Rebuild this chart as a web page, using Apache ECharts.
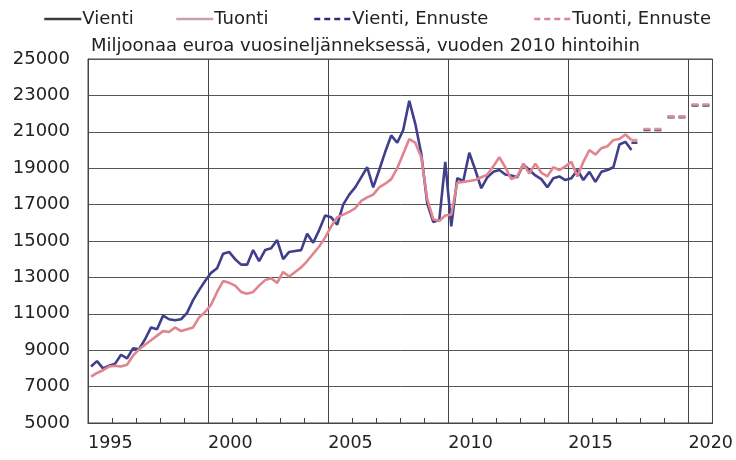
<!DOCTYPE html>
<html><head><meta charset="utf-8">
<script src="https://cdn.jsdelivr.net/npm/echarts@6/dist/echarts.min.js"></script>
<style>html,body{margin:0;padding:0;background:#fff}#c{width:736px;height:460px}</style>
</head><body><div id="c"></div>
<script>
// Quarterly data starting 1995Q1
const startYear = 1995;
const vienti = [8100,8400,8000,8150, 8250,8750,8550,9100, 9050,9600,10250,10150, 10900,10700,10650,10700,
  11050,11750,12300,12800, 13250,13500,14300,14400, 14000,13700,13700,14500, 13900,14500,14600,15050,
  14000,14400,14450,14500, 15400,14900,15600,16400, 16300,15900,17000,17550, 17950,18500,19050,17950,
  18900,19900,20800,20400, 21100,22700,21450,19800, 17050,16050,16150,19350, 15800,18450,18300,19850,
  18900,17900,18500,18800, 18900,18650,18600,18500, 19200,18900,18600,18400, 17950,18450,18550,18350,
  18450,18900,18350,18800, 18250,18800,18900,19050, 20300,20450,20000];
const tuonti = [7550,7750,7900,8100, 8150,8100,8200,8700, 9050,9300,9550,9800, 10050,10000,10250,10050,
  10150,10250,10800,11100, 11500,12200,12800,12700, 12550,12200,12100,12200, 12550,12850,12950,12700,
  13300,13050,13300,13550, 13900,14300,14700,15200, 15800,16300,16450,16600, 16800,17200,17400,17550,
  17950,18150,18400,19000, 19800,20600,20400,19600, 17300,16200,16100,16400, 16450,18200,18250,18300,
  18350,18500,18650,19100, 19600,19050,18400,18550, 19250,18700,19250,18750, 18550,19050,18900,19100,
  19350,18550,19350,20000, 19750,20100,20200,20550, 20600,20850,20550];
// Annual forecasts (drawn per quarter)
const forecastYears = [2017, 2018, 2019, 2020];
const forecastFirstQuarter = [3, 1, 1, 1];
const vientiEnnuste = [20400, 21100, 21800, 22450];
const tuontiEnnuste = [20550, 21150, 21850, 22500];
const yTicks = [5000, 25000, 2000];
const xRange = [1995, 2021];

function quarterly(arr){ return arr.map((v,i)=>[startYear + (i+0.5)/4, v]); }
function forecast(vals){
  const out = [];
  forecastYears.forEach((y,k)=>{
    for(let q=forecastFirstQuarter[k]; q<=4; q++) out.push([y+(q-0.5)/4, vals[k]]);
    out.push([y+1, '-']);
  });
  return out;
}
const FONT = 'DejaVu Sans';
const chart = echarts.init(document.getElementById('c'), null, {renderer:'canvas'});
function leg(name, left, color, type){
  return {left:left, top:10, padding:0, itemWidth:37, itemHeight:14, itemGap:0,
    textStyle:{fontFamily:FONT, fontSize:18, color:'#222', padding:[0,0,0,-4]},
    data:[{name:name, lineStyle:{color:color, width:2.5, type:type},
      itemStyle:{color:'rgba(0,0,0,0)', borderWidth:0, opacity:0}}]};
}
chart.setOption({
  animation:false,
  title:{text:'Miljoonaa euroa vuosineljänneksessä, vuoden 2010 hintoihin', left:91, top:37, padding:0,
    textStyle:{fontFamily:FONT, fontSize:18, fontWeight:'normal', color:'#222'}},
  legend:[leg('Vienti',43,'#3c3c3c','solid'), leg('Tuonti',175,'#c4a4ac','solid'),
          leg('Vienti, Ennuste',313,'#2c2c7a',[6,4]), leg('Tuonti, Ennuste',533,'#d8849a',[6,4])],
  grid:{left:88, right:23, top:59, bottom:37, show:true, borderColor:'#444', borderWidth:1},
  xAxis:[{type:'value', min:xRange[0], max:xRange[1], interval:5,
      axisLine:{lineStyle:{color:'#444'}},
      axisTick:{show:true, inside:true, length:5, lineStyle:{color:'#444'}},
      splitLine:{show:true, lineStyle:{color:'#444', width:1}},
      axisLabel:{align:'left', margin:11, fontFamily:FONT, fontSize:17.5, color:'#222', showMaxLabel:false,
        formatter:v=> (v%5===0 && v<xRange[1]) ? String(v) : ''}},
    {type:'value', min:xRange[0], max:xRange[1], interval:1, position:'bottom',
      axisLine:{show:false}, axisLabel:{show:false}, splitLine:{show:false},
      axisTick:{show:true, inside:true, length:5, lineStyle:{color:'#444'}}}],
  yAxis:{type:'value', min:yTicks[0], max:yTicks[1], interval:yTicks[2],
    axisLine:{show:true, lineStyle:{color:'#444'}}, axisTick:{show:false},
    splitLine:{lineStyle:{color:'#555', width:1}},
    axisLabel:{margin:18, fontFamily:FONT, fontSize:18, color:'#222', formatter:v=>String(v)}},
  series:[
    {name:'Vienti', type:'line', symbol:'none', data:quarterly(vienti), color:'#3c3c3c',
      lineStyle:{color:'#3f3f8c', width:2.6}},
    {name:'Tuonti', type:'line', symbol:'none', data:quarterly(tuonti), color:'#c4a4ac',
      lineStyle:{color:'#e0848f', width:2.6}},
    {name:'Vienti, Ennuste', type:'line', symbol:'none', data:forecast(vientiEnnuste), connectNulls:false,
      color:'#2c2c7a', lineStyle:{color:'#4a4a6e', width:2.6, type:[7,4]}},
    {name:'Tuonti, Ennuste', type:'line', symbol:'none', data:forecast(tuontiEnnuste), connectNulls:false,
      color:'#d8849a', lineStyle:{color:'#e08ea0', width:2.6, type:[7,4]}}
  ]
});
</script></body></html>
